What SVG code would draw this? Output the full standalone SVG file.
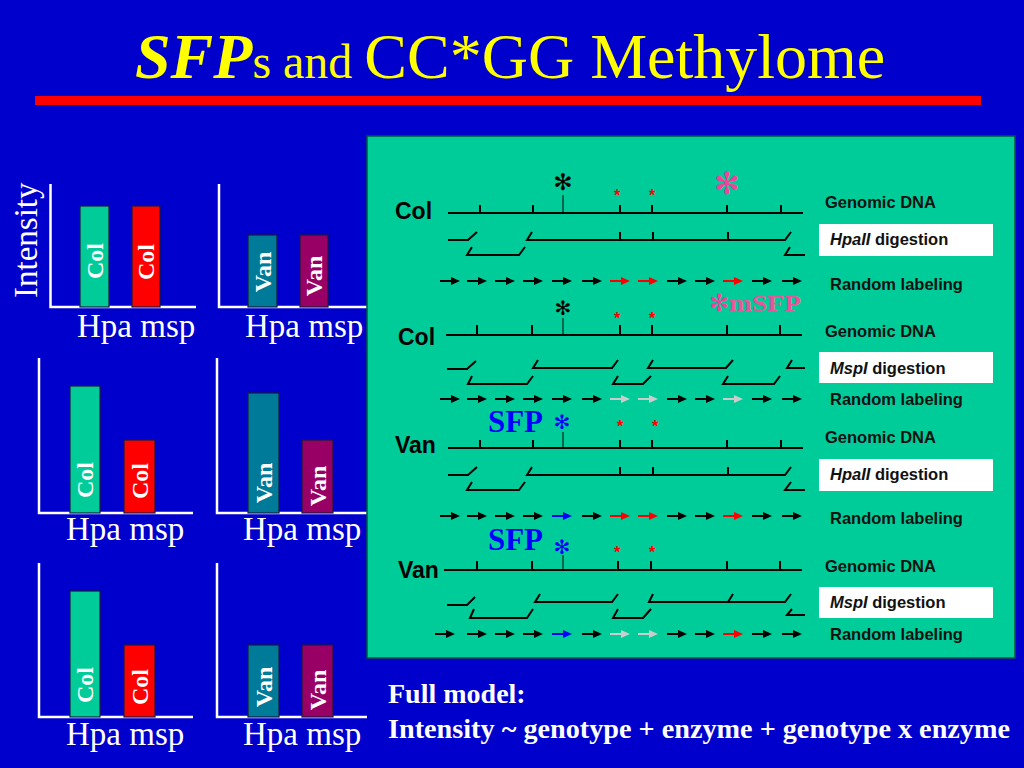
<svg xmlns="http://www.w3.org/2000/svg" xmlns:xlink="http://www.w3.org/1999/xlink" width="1024" height="768" viewBox="0 0 1024 768">
<style>
.ax{stroke:#ffffff;stroke-width:2.5;fill:none}
.bar{stroke:#1a1a3a;stroke-width:1.2}
.bl{font-family:"Liberation Serif",serif;font-weight:bold;font-size:24px;fill:#ffffff;text-anchor:middle}
.hm{font-family:"Liberation Serif",serif;font-size:33px;fill:#ffffff}
.dna{stroke:#000;stroke-width:2;fill:none}
.thin{stroke:#000;stroke-width:1;fill:none}
.lab{font-family:"Liberation Sans",sans-serif;font-weight:bold;font-size:16.5px;fill:#111}
.gl{font-family:"Liberation Sans",sans-serif;font-weight:bold;font-size:23px;fill:#000}
.sfp{font-family:"Liberation Serif",serif;font-weight:bold;font-size:32px;fill:#0000ff}
.ast{font-family:"DejaVu Sans",sans-serif;text-anchor:middle;dominant-baseline:central}
.rs{font-family:"Liberation Sans",sans-serif;font-weight:bold;font-size:16px;fill:#ff0000;text-anchor:middle}
.k{color:#000}.r{color:#ff0000}.g{color:#cccccc}.b{color:#0000ff}
</style>
<defs>
<g id="arrow"><line x1="0" y1="0" x2="13" y2="0" stroke="currentColor" stroke-width="2"/><polygon points="11,-4 20,0 11,4" fill="currentColor"/></g>
</defs>
<rect x="0" y="0" width="1024" height="768" fill="#0000cc"/>

<g id="title">
<text x="135" y="78" font-family="'Liberation Serif',serif" font-size="64" fill="#ffff00"><tspan font-weight="bold" font-style="italic">SFP</tspan><tspan font-size="48">s and </tspan><tspan>CC*GG Methylome</tspan></text>
<rect x="35" y="96" width="946" height="9" fill="#ff0000"/>
</g>

<g id="chart-r1c1">
<text class="hm" transform="translate(37,298) rotate(-90)" font-size="32">Intensity</text>
<path class="ax" d="M50.5 184 V307 H196"/>
<rect class="bar" x="80" y="206" width="29" height="101" fill="#00cc99"/>
<rect class="bar" x="132" y="206" width="28" height="101" fill="#ff0000"/>
<text class="bl" transform="translate(102.5,261) rotate(-90)">Col</text>
<text class="bl" transform="translate(154,262) rotate(-90)">Col</text>
<text class="hm" x="77" y="337">Hpa msp</text>
</g>
<g id="chart-r1c2">
<path class="ax" d="M219 184 V307 H367"/>
<rect class="bar" x="248" y="235" width="29" height="72" fill="#007a99"/>
<rect class="bar" x="300" y="235" width="28" height="72" fill="#990066"/>
<text class="bl" transform="translate(270.5,272) rotate(-90)">Van</text>
<text class="bl" transform="translate(322,276) rotate(-90)">Van</text>
<text class="hm" x="245" y="337">Hpa msp</text>
</g>
<g id="chart-r2c1">
<path class="ax" d="M39 358 V513 H193"/>
<rect class="bar" x="70" y="386" width="30" height="127" fill="#00cc99"/>
<rect class="bar" x="124" y="440" width="31" height="73" fill="#ff0000"/>
<text class="bl" transform="translate(93,480) rotate(-90)">Col</text>
<text class="bl" transform="translate(147.5,481) rotate(-90)">Col</text>
<text class="hm" x="66" y="540">Hpa msp</text>
</g>
<g id="chart-r2c2">
<path class="ax" d="M217 358 V513 H367"/>
<rect class="bar" x="248" y="393" width="31" height="120" fill="#007a99"/>
<rect class="bar" x="302" y="440" width="31" height="73" fill="#990066"/>
<text class="bl" transform="translate(271.5,483) rotate(-90)">Van</text>
<text class="bl" transform="translate(325.5,486) rotate(-90)">Van</text>
<text class="hm" x="243" y="540">Hpa msp</text>
</g>
<g id="chart-r3c1">
<path class="ax" d="M39 563 V717 H193"/>
<rect class="bar" x="70" y="591" width="30" height="126" fill="#00cc99"/>
<rect class="bar" x="124" y="645" width="31" height="72" fill="#ff0000"/>
<text class="bl" transform="translate(93,685) rotate(-90)">Col</text>
<text class="bl" transform="translate(147.5,687) rotate(-90)">Col</text>
<text class="hm" x="66" y="745">Hpa msp</text>
</g>
<g id="chart-r3c2">
<path class="ax" d="M217 563 V717 H367"/>
<rect class="bar" x="248" y="645" width="31" height="72" fill="#007a99"/>
<rect class="bar" x="302" y="645" width="31" height="72" fill="#990066"/>
<text class="bl" transform="translate(271.5,687) rotate(-90)">Van</text>
<text class="bl" transform="translate(325.5,690) rotate(-90)">Van</text>
<text class="hm" x="243" y="745">Hpa msp</text>
</g>

<g id="panel">
<rect x="367" y="136" width="648" height="522" fill="#00cc99" stroke="#005544" stroke-width="1.5"/>
</g>

<g id="row-col-hpa">
<text class="gl" x="395" y="219">Col</text>
<path class="dna" d="M448 213 H803 M480 205 V213 M533 205 V213 M620 205 V213 M652 205 V213 M727 205 V213 M781 205 V213"/>
<path class="thin" d="M563 195 V213"/>
<text class="ast" x="563" y="182" font-size="23" fill="#000">✻</text>
<text class="rs" x="617" y="201">*</text>
<text class="rs" x="652" y="201">*</text>
<text class="ast" x="727" y="183" font-size="31" fill="#ee4499">✻</text>
<path class="dna" d="M448 240 H468 L477 232 M472 247 L467 255 H519 L525 247 M532 232 L527 240 H785 L791 232 M620 232 V240 M653 232 V240 M728 232 V240 M790 247 L785 255 H805"/>
<use xlink:href="#arrow" x="440" y="281" class="k"/>
<use xlink:href="#arrow" x="467" y="281" class="k"/>
<use xlink:href="#arrow" x="495" y="281" class="k"/>
<use xlink:href="#arrow" x="523" y="281" class="k"/>
<use xlink:href="#arrow" x="552" y="281" class="k"/>
<use xlink:href="#arrow" x="582" y="281" class="k"/>
<use xlink:href="#arrow" x="610" y="281" class="r"/>
<use xlink:href="#arrow" x="638" y="281" class="r"/>
<use xlink:href="#arrow" x="667" y="281" class="k"/>
<use xlink:href="#arrow" x="695" y="281" class="k"/>
<use xlink:href="#arrow" x="723" y="281" class="r"/>
<use xlink:href="#arrow" x="752" y="281" class="k"/>
<use xlink:href="#arrow" x="782" y="281" class="k"/>
<text class="lab" x="825" y="208">Genomic DNA</text>
<rect x="819" y="224" width="174" height="32" fill="#ffffff"/>
<text class="lab" x="830" y="245"><tspan font-style="italic">HpaII</tspan> digestion</text>
<text class="lab" x="830" y="290">Random labeling</text>
</g>

<g id="row-col-msp">
<text class="ast" x="719" y="303" font-size="24" fill="#ee4499">✻</text>
<text x="729" y="311" font-family="'Liberation Serif',serif" font-weight="bold" font-size="24" fill="#e8559a" textLength="72" lengthAdjust="spacingAndGlyphs">mSFP</text>
<text class="gl" x="398" y="345">Col</text>
<path class="dna" d="M446 335 H802 M477 325 V335 M532 325 V335 M620 325 V335 M652 325 V335 M727 325 V335 M780 325 V335"/>
<path class="thin" d="M563 318 V335"/>
<text class="ast" x="563" y="308" font-size="20" fill="#000">✻</text>
<text class="rs" x="617" y="324">*</text>
<text class="rs" x="652" y="324">*</text>
<path class="dna" d="M447 369 H467 L476 361 M472 376 L468 384 H527 L533 376 M538 360 L533 368 H612 L618 360 M618 376 L613 384 H643 L651 376 M653 360 L648 368 H726 L733 360 M728 376 L723 384 H774 L780 376 M792 360 L787 368 H805"/>
<use xlink:href="#arrow" x="440" y="399" class="k"/>
<use xlink:href="#arrow" x="467" y="399" class="k"/>
<use xlink:href="#arrow" x="495" y="399" class="k"/>
<use xlink:href="#arrow" x="523" y="399" class="k"/>
<use xlink:href="#arrow" x="552" y="399" class="k"/>
<use xlink:href="#arrow" x="582" y="399" class="k"/>
<use xlink:href="#arrow" x="610" y="399" class="g"/>
<use xlink:href="#arrow" x="638" y="399" class="g"/>
<use xlink:href="#arrow" x="667" y="399" class="k"/>
<use xlink:href="#arrow" x="695" y="399" class="k"/>
<use xlink:href="#arrow" x="723" y="399" class="g"/>
<use xlink:href="#arrow" x="752" y="399" class="k"/>
<use xlink:href="#arrow" x="782" y="399" class="k"/>
<text class="lab" x="825" y="337">Genomic DNA</text>
<rect x="819" y="352" width="174" height="31" fill="#ffffff"/>
<text class="lab" x="830" y="374"><tspan font-style="italic">MspI</tspan> digestion</text>
<text class="lab" x="830" y="405">Random labeling</text>
</g>

<g id="row-van-hpa">
<text class="sfp" x="488" y="432" textLength="55" lengthAdjust="spacingAndGlyphs">SFP</text>
<text class="gl" x="395" y="453">Van</text>
<path class="dna" d="M448 448 H803 M480 440 V448 M533 440 V448 M620 440 V448 M652 440 V448 M727 440 V448 M781 440 V448"/>
<path class="thin" d="M563 432 V448"/>
<text class="ast" x="562" y="422" font-size="20" fill="#0000ff">✻</text>
<text class="rs" x="620" y="432">*</text>
<text class="rs" x="655" y="432">*</text>
<path class="dna" d="M448 475 H468 L477 467 M472 482 L467 490 H519 L525 482 M532 467 L527 475 H785 L791 467 M620 467 V475 M653 467 V475 M728 467 V475 M791 482 L785 490 H805"/>
<use xlink:href="#arrow" x="440" y="516" class="k"/>
<use xlink:href="#arrow" x="467" y="516" class="k"/>
<use xlink:href="#arrow" x="495" y="516" class="k"/>
<use xlink:href="#arrow" x="523" y="516" class="k"/>
<use xlink:href="#arrow" x="552" y="516" class="b"/>
<use xlink:href="#arrow" x="582" y="516" class="k"/>
<use xlink:href="#arrow" x="610" y="516" class="r"/>
<use xlink:href="#arrow" x="638" y="516" class="r"/>
<use xlink:href="#arrow" x="667" y="516" class="k"/>
<use xlink:href="#arrow" x="695" y="516" class="k"/>
<use xlink:href="#arrow" x="723" y="516" class="r"/>
<use xlink:href="#arrow" x="752" y="516" class="k"/>
<use xlink:href="#arrow" x="782" y="516" class="k"/>
<text class="lab" x="825" y="443">Genomic DNA</text>
<rect x="819" y="459" width="174" height="32" fill="#ffffff"/>
<text class="lab" x="830" y="480"><tspan font-style="italic">HpaII</tspan> digestion</text>
<text class="lab" x="830" y="524">Random labeling</text>
</g>

<g id="row-van-msp">
<text class="sfp" x="488" y="550" textLength="55" lengthAdjust="spacingAndGlyphs">SFP</text>
<text class="gl" x="398" y="578">Van</text>
<path class="dna" d="M444 570 H802 M477 561 V570 M532 561 V570 M618 561 V570 M651 561 V570 M727 561 V570 M780 561 V570"/>
<path class="thin" d="M563 555 V570"/>
<text class="ast" x="562" y="547" font-size="20" fill="#0000ff">✻</text>
<text class="rs" x="617" y="558">*</text>
<text class="rs" x="652" y="558">*</text>
<path class="dna" d="M447 605 H467 L475 597 M474 609 L470 618 H527 L533 609 M540 594 L535 602 H612 L618 594 M618 609 L613 618 H643 L651 609 M653 594 L649 602 H785 L791 594 M728 602 L733 594 M792 609 L787 615 H805"/>
<use xlink:href="#arrow" x="435" y="634" class="k"/>
<use xlink:href="#arrow" x="467" y="634" class="k"/>
<use xlink:href="#arrow" x="495" y="634" class="k"/>
<use xlink:href="#arrow" x="523" y="634" class="k"/>
<use xlink:href="#arrow" x="552" y="634" class="b"/>
<use xlink:href="#arrow" x="582" y="634" class="k"/>
<use xlink:href="#arrow" x="610" y="634" class="g"/>
<use xlink:href="#arrow" x="638" y="634" class="g"/>
<use xlink:href="#arrow" x="667" y="634" class="k"/>
<use xlink:href="#arrow" x="695" y="634" class="k"/>
<use xlink:href="#arrow" x="723" y="634" class="r"/>
<use xlink:href="#arrow" x="752" y="634" class="k"/>
<use xlink:href="#arrow" x="782" y="634" class="k"/>
<text class="lab" x="825" y="572">Genomic DNA</text>
<rect x="819" y="587" width="174" height="31" fill="#ffffff"/>
<text class="lab" x="830" y="608"><tspan font-style="italic">MspI</tspan> digestion</text>
<text class="lab" x="830" y="640">Random labeling</text>
</g>

<g id="model">
<text x="388" y="703" font-family="'Liberation Serif',serif" font-weight="bold" font-size="28" fill="#ffffff">Full model:</text>
<text x="388" y="738" font-family="'Liberation Serif',serif" font-weight="bold" font-size="28" fill="#ffffff" textLength="622" lengthAdjust="spacingAndGlyphs">Intensity ~ genotype + enzyme + genotype x enzyme</text>
</g>
</svg>
